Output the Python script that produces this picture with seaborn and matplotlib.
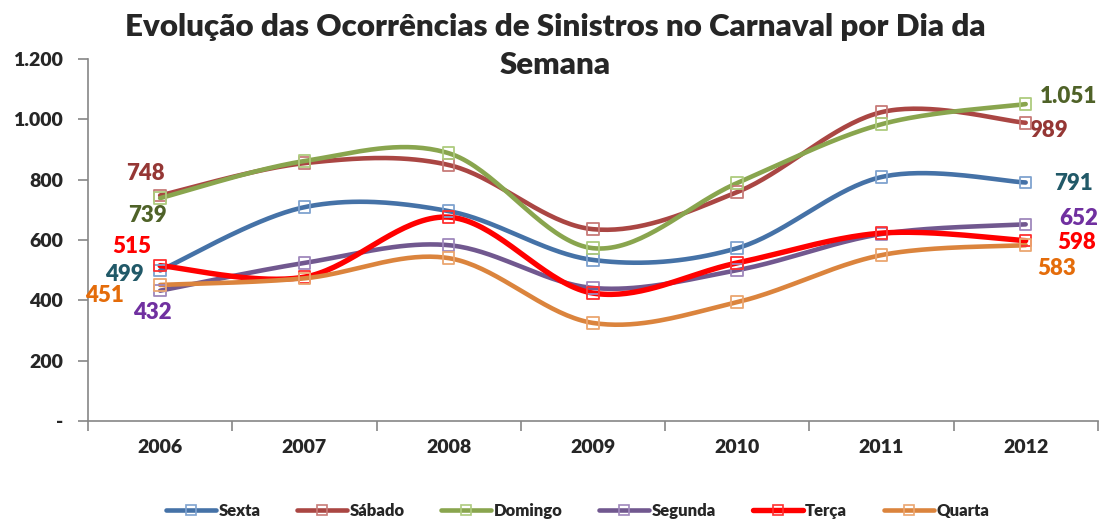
import numpy as np
import pandas as pd
import matplotlib
matplotlib.use("Agg")
import matplotlib.pyplot as plt
import seaborn as sns
from matplotlib.lines import Line2D
from matplotlib.ticker import FixedLocator

# --- Data ---
anos = ["2006", "2007", "2008", "2009", "2010", "2011", "2012"]
dias = ["Sexta", "Sábado", "Domingo", "Segunda", "Terça", "Quarta"]
sexta = [499, 709, 696, 534, 573, 809, 791]
sabado = [748, 855, 849, 636, 759, 1024, 989]
domingo = [739, 862, 888, 573, 789, 984, 1051]
segunda = [432, 524, 583, 441, 500, 620, 652]
terca = [515, 477, 676, 424, 524, 623, 598]
quarta = [451, 473, 540, 325, 394, 550, 583]
series = [sexta, sabado, domingo, segunda, terca, quarta]

# --- Styles ---
line_colors = ["#4572A7", "#AA4643", "#89A54E", "#71588F", "#FF0000", "#DB843D"]
marker_edges = ["#7FA3CF", "#C77B78", "#AECB7E", "#9F88BC", "#FF3030", "#EBA670"]
label_colors = ["#215968", "#953735", "#4F6228", "#7030A0", "#FF0000", "#E46C0A"]
line_widths = [3.3, 3.3, 3.3, 3.3, 3.9, 3.3]
# label offsets in pixels (first point, last point)
offsets_first = [(-36, -4), (-15, 22), (-13, -17), (-8, -22), (-28, 19), (-56, -11)]
offsets_last = [(48, -1), (23, -8), (43, 8), (53, 6), (51, -2), (31, -23)]
BOLD = "heavy"


def fmt_pt(v):
    return f"{v:,.0f}".replace(",", ".")


def smooth(xs, ys, n=40):
    # Excel-style smoothed line (Catmull-Rom Bezier)
    pts = np.column_stack([xs, ys]).astype(float)
    out = []
    for i in range(len(pts) - 1):
        p0 = pts[i - 1] if i > 0 else pts[i]
        p1 = pts[i]
        p2 = pts[i + 1]
        p3 = pts[i + 2] if i + 2 < len(pts) else pts[i + 1]
        c1 = p1 + (p2 - p0) / 6.0
        c2 = p2 - (p3 - p1) / 6.0
        t = np.linspace(0, 1, n)[:, None]
        seg = ((1 - t) ** 3) * p1 + 3 * ((1 - t) ** 2) * t * c1 + 3 * (1 - t) * t ** 2 * c2 + t ** 3 * p2
        out.append(seg if i == 0 else seg[1:])
    return np.vstack(out)


sns.set_style("white")
plt.rcParams["font.family"] = ["Lato", "DejaVu Sans"]

fig = plt.figure(figsize=(11, 5.19), dpi=100)
ax = fig.add_axes([0.08, 0.189, 0.918, 0.697])

xpos = np.arange(len(anos))
rows = []
for name, vals in zip(dias, series):
    curve = smooth(xpos, vals)
    for k, (cx, cy) in enumerate(curve):
        rows.append({"dia": name, "k": k, "x": cx, "y": cy})
df_curve = pd.DataFrame(rows)

df_pts = pd.DataFrame({
    "dia": np.repeat(dias, len(anos)),
    "x": np.tile(xpos, len(dias)),
    "valor": np.concatenate(series),
})

for i, name in enumerate(dias):
    sub = df_curve[df_curve["dia"] == name]
    sns.lineplot(data=sub, x="x", y="y", sort=False, estimator=None, color=line_colors[i],
                 lw=line_widths[i], ax=ax, zorder=2 + i * 0.1, solid_capstyle="round")
    pts = df_pts[df_pts["dia"] == name]
    sns.scatterplot(data=pts, x="x", y="valor", marker="s", s=70, facecolor="none",
                    edgecolor=marker_edges[i], linewidth=1.3, ax=ax, zorder=3 + i * 0.1)
    vals = series[i]
    ax.annotate(fmt_pt(vals[0]), (xpos[0], vals[0]), xytext=offsets_first[i], textcoords="offset pixels",
                ha="center", va="center", fontsize=16, fontweight=BOLD, color=label_colors[i])
    ax.annotate(fmt_pt(vals[-1]), (xpos[-1], vals[-1]), xytext=offsets_last[i], textcoords="offset pixels",
                ha="center", va="center", fontsize=16, fontweight=BOLD, color=label_colors[i])

# axes
ax.set_xlim(-0.5, len(anos) - 0.5)
ax.set_ylim(0, 1200)
ax.set_xticks(xpos)
ax.set_xticklabels(anos, fontsize=14, fontweight=BOLD)
ax.xaxis.set_minor_locator(FixedLocator(np.arange(-0.5, len(anos), 1.0)))
ax.tick_params(axis="x", which="major", length=0, pad=13)
ax.tick_params(axis="x", which="minor", length=7, color="#868686", width=1.2, direction="out", bottom=True)
yt = [0, 200, 400, 600, 800, 1000, 1200]
ax.set_yticks(yt)
ax.set_yticklabels(["-" if v == 0 else fmt_pt(v) for v in yt], fontsize=14, fontweight=BOLD)
ax.tick_params(axis="y", length=7, color="#868686", width=1.2, direction="out", left=True, pad=11)
ax.set_xlabel("")
ax.set_ylabel("")
for s in ["top", "right"]:
    ax.spines[s].set_visible(False)
for s in ["left", "bottom"]:
    ax.spines[s].set_color("#868686")
    ax.spines[s].set_linewidth(1.2)

fig.text(0.505, 0.975, "Evolução das Ocorrências de Sinistros no Carnaval por Dia da\nSemana",
         ha="center", va="top", fontsize=22.5, fontweight=BOLD, linespacing=1.45)

handles = [Line2D([0], [0], color=line_colors[i], lw=line_widths[i], marker="s", markersize=7,
                  markerfacecolor="none", markeredgecolor=marker_edges[i], markeredgewidth=1.2)
           for i in range(len(dias))]
fig.legend(handles, dias, loc="center", bbox_to_anchor=(0.525, 0.015), ncol=6, frameon=False,
           prop={"weight": BOLD, "size": 12}, handlelength=3.0, handletextpad=0.15, columnspacing=2.2)

fig.savefig("out.png", dpi=100)
